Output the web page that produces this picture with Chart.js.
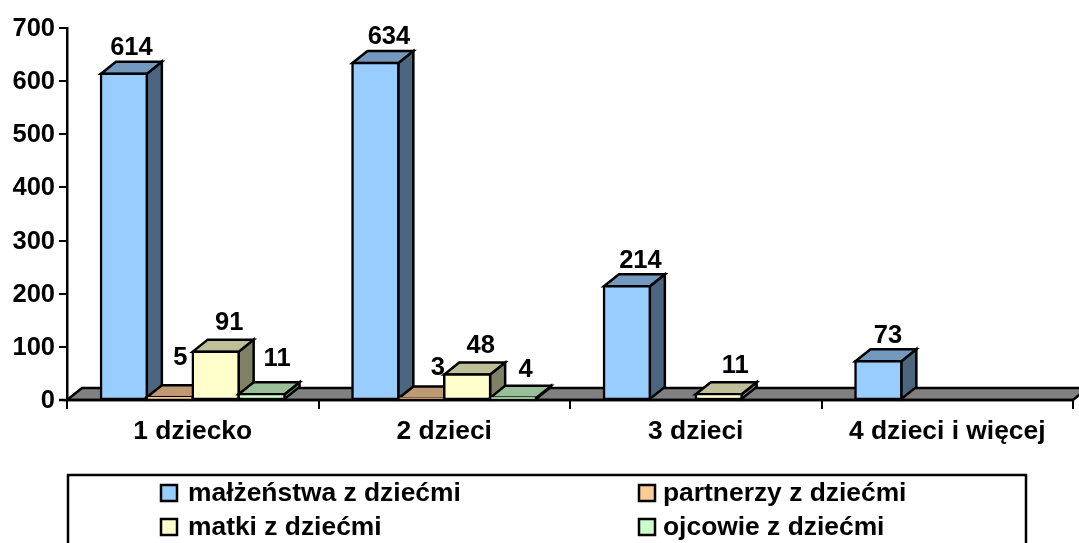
<!DOCTYPE html>
<html><head><meta charset="utf-8">
<style>html,body{margin:0;padding:0;background:#fff;overflow:hidden}#w{width:1079px;height:543px;position:relative}</style>
<script src="https://cdn.jsdelivr.net/npm/chart.js@4"></script>
</head><body><div id="w"><canvas id="c" width="1079" height="543"></canvas></div>
<script>
const categories = ['1 dziecko', '2 dzieci', '3 dzieci', '4 dzieci i więcej'];
const malzenstwa = [614, 634, 214, 73];
const partnerzy = [5, 3, null, null];
const matki = [91, 48, 11, null];
const ojcowie = [11, 4, null, null];
const seriesNames = ['małżeństwa z dziećmi', 'partnerzy z dziećmi', 'matki z dziećmi', 'ojcowie z dziećmi'];
const seriesColors = ['#99CCFF', '#FFCC99', '#FFFFCC', '#CCFFCC'];
const topColors = ['#7399BF', '#BF9973', '#BFBF99', '#99BF99'];
const sideColors = ['#4D6680', '#80664D', '#808066', '#668066'];
const yTicks = [0, 100, 200, 300, 400, 500, 600, 700];

const FONT = 'bold 26.4px "Liberation Sans", Arial, sans-serif';
const DATA_FONT = 'bold 25.5px "Liberation Sans", Arial, sans-serif';
const DX = 15, DY = 12, LW = 2.5;
// hand placement of data labels relative to the top-back edge of a bar: [dx, dy] per series, per category
const labelNudge = [
  [[0, -15], [6, -15], [6, -14], [2, -14]],
  [[3, -28], [9, -19]],
  [[6, -18], [6, -18], [9, -17]],
  [[8, -24], [5, -17]]
];

const bar3d = {
  id: 'bar3d',
  beforeDatasetsDraw(chart) {
    const ctx = chart.ctx, a = chart.chartArea;
    ctx.save();
    ctx.lineJoin = 'miter'; ctx.lineWidth = LW; ctx.strokeStyle = '#000';
    // floor
    ctx.fillStyle = '#808080';
    ctx.beginPath();
    ctx.moveTo(a.left, a.bottom); ctx.lineTo(a.left + DX, a.bottom - DY);
    ctx.lineTo(a.right + DX, a.bottom - DY); ctx.lineTo(a.right, a.bottom);
    ctx.closePath(); ctx.fill(); ctx.stroke();
    // left to right, so that the right neighbour hides what it should
    chart.data.datasets.forEach((ds, i) => {
      chart.getDatasetMeta(i).data.forEach((el, j) => {
        if (ds.data[j] == null) return;
        const l = el.x - el.width / 2, r = el.x + el.width / 2, t = el.y, b = el.base;
        ctx.fillStyle = sideColors[i];
        ctx.beginPath();
        ctx.moveTo(r, t); ctx.lineTo(r + DX, t - DY); ctx.lineTo(r + DX, b - DY); ctx.lineTo(r, b);
        ctx.closePath(); ctx.fill(); ctx.stroke();
        ctx.fillStyle = topColors[i];
        ctx.beginPath();
        ctx.moveTo(l, t); ctx.lineTo(l + DX, t - DY); ctx.lineTo(r + DX, t - DY); ctx.lineTo(r, t);
        ctx.closePath(); ctx.fill(); ctx.stroke();
        el.draw(ctx);
      });
    });
    // axis base line over the bars' feet
    ctx.beginPath(); ctx.moveTo(a.left - 8, a.bottom); ctx.lineTo(a.right, a.bottom); ctx.stroke();
    // data labels
    ctx.fillStyle = '#000'; ctx.font = DATA_FONT; ctx.textAlign = 'center'; ctx.textBaseline = 'middle';
    chart.data.datasets.forEach((ds, i) => {
      chart.getDatasetMeta(i).data.forEach((el, j) => {
        if (ds.data[j] == null) return;
        const n = labelNudge[i][j];
        ctx.fillText(String(ds.data[j]), el.x + DX / 2 + n[0], el.y - DY + n[1] + 1);
      });
    });
    ctx.restore();
    return false;
  },
  afterDraw(chart) {
    const ctx = chart.ctx;
    ctx.save();
    ctx.lineWidth = LW; ctx.strokeStyle = '#000';
    ctx.strokeRect(68, 475, 958, 90);
    ctx.font = FONT; ctx.textAlign = 'left'; ctx.textBaseline = 'middle';
    seriesNames.forEach((name, i) => {
      const sx = i % 2 ? 639 : 161, y = i < 2 ? 493 : 527;
      ctx.fillStyle = seriesColors[i];
      ctx.fillRect(sx, y - 8, 16, 16); ctx.strokeRect(sx, y - 8, 16, 16);
      ctx.fillStyle = '#000';
      ctx.fillText(name, sx + (i % 2 ? 24 : 27), y + 1);
    });
    ctx.restore();
  }
};

new Chart(document.getElementById('c'), {
  type: 'bar',
  plugins: [bar3d],
  data: {
    labels: categories,
    datasets: [malzenstwa, partnerzy, matki, ojcowie].map((d, i) => ({
      label: seriesNames[i], data: d, backgroundColor: seriesColors[i],
      borderColor: '#000', borderWidth: LW, borderSkipped: false, inflateAmount: LW / 2,
      barPercentage: 1, categoryPercentage: 0.73
    }))
  },
  options: {
    responsive: false, animation: false, devicePixelRatio: 1,
    layout: { padding: { top: 28, right: 6, left: 0, bottom: 0 } },
    plugins: { legend: { display: false }, tooltip: { enabled: false } },
    scales: {
      x: {
        afterFit(s) { s.height = 143; },
        border: { color: '#000', width: 2 },
        grid: { drawOnChartArea: false, color: '#000', lineWidth: 2, tickLength: 9, tickColor: '#000' },
        ticks: { color: '#000', font: { family: '"Liberation Sans"', size: 26.4, weight: 'bold' }, padding: 7, maxRotation: 0 }
      },
      y: {
        min: 0, max: 700,
        afterFit(s) { s.width = 67; },
        afterBuildTicks(s) { s.ticks = yTicks.map(v => ({ value: v })); },
        border: { color: '#000', width: 2.5 },
        grid: { drawOnChartArea: false, color: '#000', lineWidth: 2, tickLength: 8, tickColor: '#000' },
        ticks: { color: '#000', font: { family: '"Liberation Sans"', size: 25.5, weight: 'bold' }, padding: 4, labelOffset: 1 }
      }
    }
  }
});
</script></body></html>
